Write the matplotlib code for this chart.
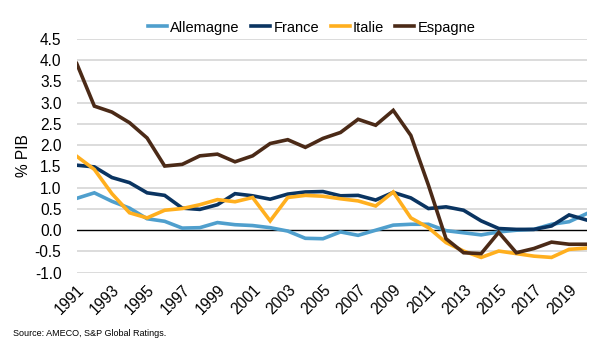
import matplotlib
matplotlib.use("Agg")
import matplotlib.pyplot as plt
import numpy as np

plt.rcParams['font.family'] = ['Liberation Sans', 'DejaVu Sans']

years = list(range(1991, 2021))
allemagne = [0.75, 0.88, 0.68, 0.52, 0.27, 0.21, 0.05, 0.06, 0.18, 0.13,
             0.11, 0.06, -0.02, -0.19, -0.20, -0.04, -0.12, 0.00, 0.12, 0.14,
             0.14, -0.01, -0.06, -0.11, -0.04, 0.00, 0.02, 0.14, 0.20, 0.39]
france = [1.53, 1.49, 1.24, 1.12, 0.88, 0.82, 0.52, 0.49, 0.60, 0.86,
          0.81, 0.73, 0.85, 0.90, 0.91, 0.81, 0.82, 0.71, 0.89, 0.76,
          0.51, 0.55, 0.47, 0.22, 0.04, 0.02, 0.02, 0.10, 0.36, 0.24]
italie = [1.74, 1.43, 0.86, 0.41, 0.29, 0.47, 0.51, 0.60, 0.72, 0.67,
          0.77, 0.22, 0.77, 0.82, 0.80, 0.74, 0.69, 0.57, 0.90, 0.29,
          0.06, -0.29, -0.49, -0.64, -0.49, -0.55, -0.61, -0.64, -0.45, -0.42]
espagne = [3.92, 2.92, 2.78, 2.53, 2.17, 1.51, 1.55, 1.75, 1.79, 1.61,
           1.75, 2.04, 2.13, 1.95, 2.16, 2.30, 2.61, 2.47, 2.82, 2.23,
           1.06, -0.20, -0.53, -0.55, -0.05, -0.53, -0.43, -0.28, -0.33, -0.33]

series = [("Allemagne", allemagne, "#4F9FCD"),
          ("France", france, "#0A3461"),
          ("Italie", italie, "#FFAF1E"),
          ("Espagne", espagne, "#4B2A17")]

yticks = [-1.0, -0.5, 0.0, 0.5, 1.0, 1.5, 2.0, 2.5, 3.0, 3.5, 4.0, 4.5]
xticks = list(range(1991, 2021, 2))

fig = plt.figure(figsize=(5.95, 3.51), dpi=100)
ax = fig.add_axes([0.129, 0.223, 0.857, 0.666])

for yt in yticks:
    if yt != 0.0:
        ax.axhline(yt, color="#D9D9D9", lw=1.3, zorder=1)
ax.axhline(0.0, color="black", lw=1.0, zorder=2)

for name, vals, col in series:
    ax.plot(years, vals, color=col, lw=2.6, label=name, zorder=3,
            solid_joinstyle='miter')

ax.set_xlim(1991, 2020)
ax.set_ylim(-1.0, 4.5)
ax.set_yticks(yticks)
ax.set_yticklabels([f"{v:.1f}" for v in yticks], fontsize=11.2)
ax.set_xticks(xticks)
ax.set_xticklabels([str(x) for x in xticks], rotation=45, ha='right',
                   rotation_mode='anchor', fontsize=11.2)
ax.tick_params(axis='both', length=0)
ax.tick_params(axis='y', pad=11)
ax.tick_params(axis='x', pad=7)
for s in ax.spines.values():
    s.set_visible(False)
ax.set_ylabel("% PIB", fontsize=11.2, labelpad=3)

leg = ax.legend(loc='lower left', bbox_to_anchor=(0.132, 1.0), ncol=4, frameon=False,
                fontsize=10.5, handlelength=1.3, handletextpad=0.2, columnspacing=0.8,
                borderaxespad=0.1, borderpad=0.2)

fig.text(0.022, 0.05, "Source: AMECO, S&P Global Ratings.", fontsize=6.5,
         va='center', ha='left')

fig.savefig("out.png", dpi=100)
